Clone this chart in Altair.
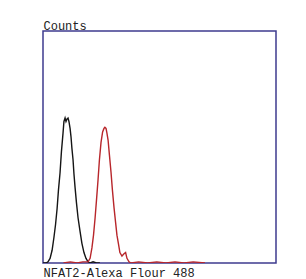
import altair as alt
import pandas as pd

# Control (black) histogram: fluorescence channel vs counts
black_x = [0, 13, 22, 31, 40, 48, 55, 62, 68, 75, 81, 88, 92, 97, 101, 105, 110,
           114, 119, 123, 127, 132, 136, 141, 147, 154, 163, 171, 180, 189, 198,
           207, 220, 235, 250]
black_y = [0, 0, 1, 4, 11, 22, 33, 47, 63, 78, 96, 112, 122, 125, 122, 124, 125,
           122, 116, 109, 99, 89, 77, 65, 52, 39, 27, 17, 9, 4, 1,
           0, 1, 0, 0]

# NFAT2 stained (red) histogram
red_x = [90, 120, 150, 175, 198, 207, 215, 222, 229, 235, 242, 248, 255, 262, 268,
         272, 277, 281, 286, 292, 299, 305, 312, 319, 325, 332, 338, 347, 356,
         363, 369, 378, 387, 420, 460, 500, 540, 580, 620, 660, 712]
red_y = [0, 1, 0, 1, 1, 4, 13, 24, 39, 54, 72, 89, 104, 113, 116,
         117, 116, 112, 106, 93, 78, 63, 48, 35, 24, 16, 9, 6, 8,
         9, 4, 1, 0, 1, 0, 1, 0, 1, 0, 1, 0]

series = ["Control"] * len(black_x) + ["NFAT2"] * len(red_x)
df = pd.DataFrame({
    "channel": black_x + red_x,
    "counts": black_y + red_y,
    "series": series,
})

chart = alt.Chart(df).mark_line(strokeWidth=1.4, clip=True).encode(
    x=alt.X("channel:Q", scale=alt.Scale(domain=[0, 1024], nice=False),
            axis=alt.Axis(title="NFAT2-Alexa Flour 488", labels=False, ticks=False,
                          grid=False, domain=False, titleX=0, titleY=13,
                          titleAlign="left", titleBaseline="alphabetic",
                          titleFont="Liberation Mono", titleFontSize=12,
                          titleFontWeight="normal", titleColor="#222222")),
    y=alt.Y("counts:Q", scale=alt.Scale(domain=[0, 200], nice=False),
            axis=alt.Axis(title="Counts", labels=False, ticks=False, grid=False,
                          domain=False, titleAngle=0, titleX=0, titleY=-2,
                          titleAlign="left", titleBaseline="alphabetic",
                          titleFont="Liberation Mono", titleFontSize=12,
                          titleFontWeight="normal", titleColor="#222222")),
    color=alt.Color("series:N", scale=alt.Scale(domain=["Control", "NFAT2"],
                                                range=["#151515", "#b8262b"]),
                    legend=None),
    detail="series:N",
).properties(
    width=233, height=232,
    autosize=alt.AutoSizeParams(type="none"),
    padding={"left": 35, "top": 23, "right": 22, "bottom": 16},
    background="white",
).configure_view(stroke="#3e3b8e", strokeWidth=1.5)

chart.save("out.html", embed_options={"renderer": "svg", "actions": False})
